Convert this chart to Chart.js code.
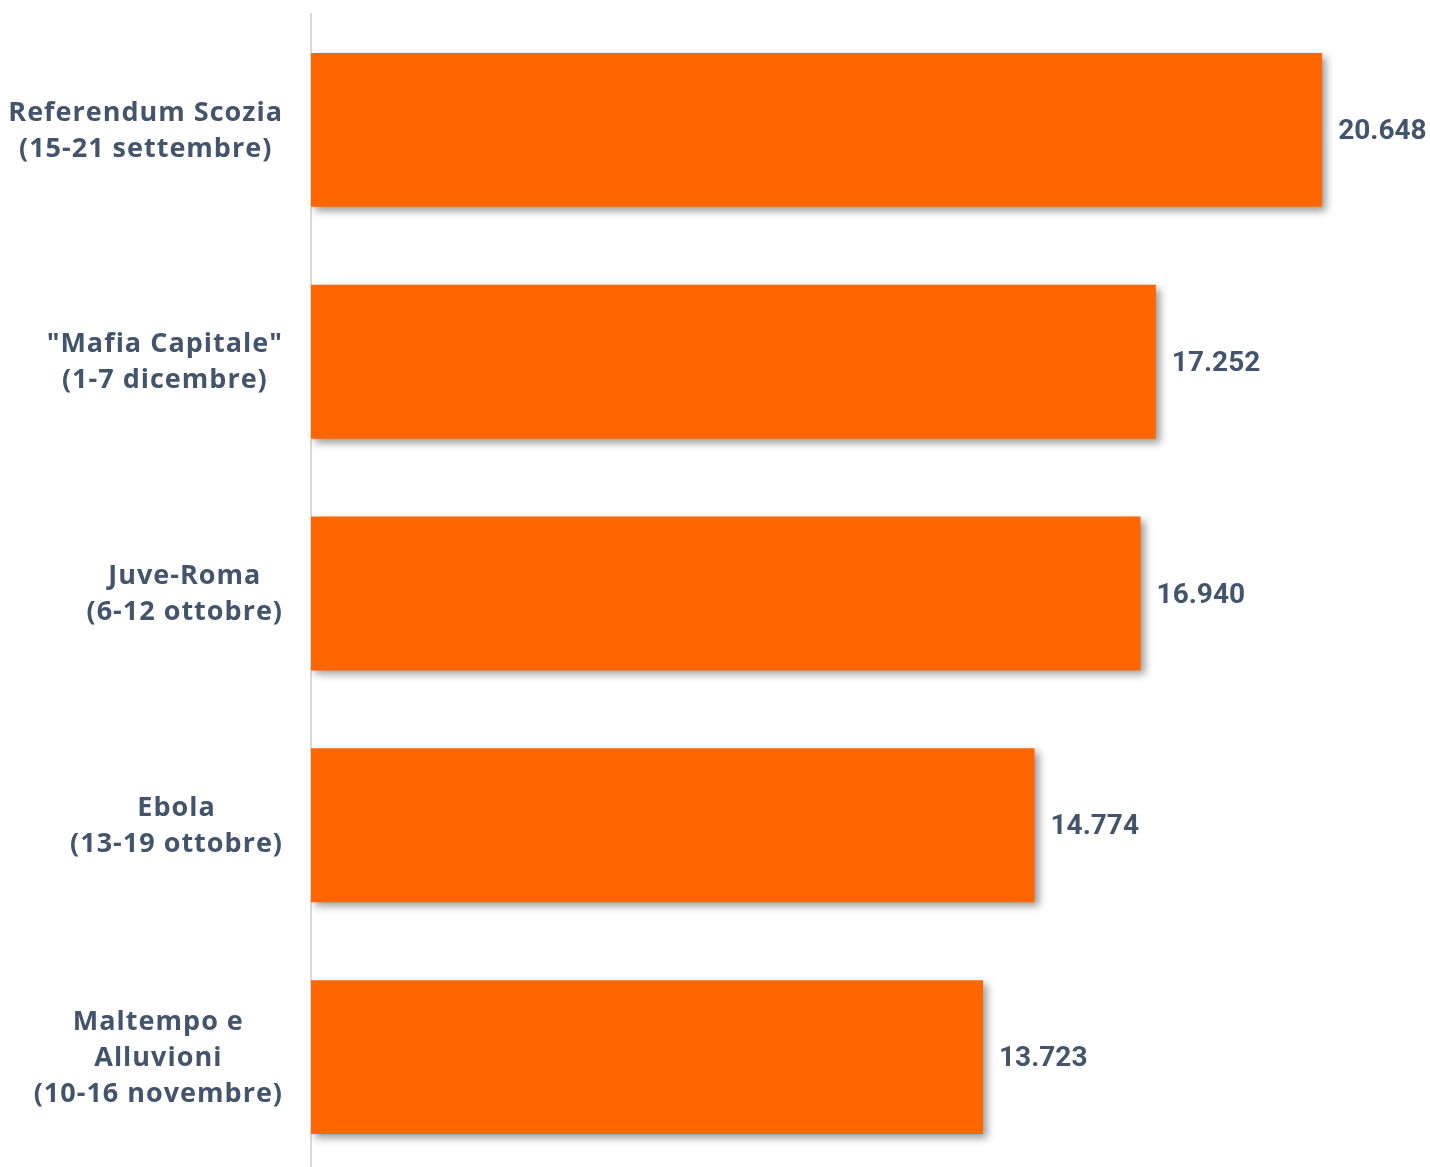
<!DOCTYPE html>
<html>
<head>
<meta charset="utf-8">
<script src="https://cdn.jsdelivr.net/npm/chart.js@4.4.1/dist/chart.umd.min.js"></script>
<style>
    html, body { margin: 0; padding: 0; background: #ffffff; overflow: hidden; }
    #wrap { position: relative; width: 1430px; height: 1173px; }
</style>
</head>
<body>
<div id="wrap"><canvas id="bar-chart"></canvas></div>
<script>
// Chart data
const categories = [
    ['Referendum Scozia', '(15-21 settembre)'],
    ['"Mafia Capitale"', '(1-7 dicembre)'],
    ['Juve-Roma', '(6-12 ottobre)'],
    ['Ebola', '(13-19 ottobre)'],
    ['Maltempo e', 'Alluvioni', '(10-16 novembre)']
];
const values = [20648, 17252, 16940, 14774, 13723];

const COLORS = {
    bar: '#ff6600',
    text: '#44546a',
    axis: '#d9d9d9'
};

const LABEL_FONT = "bold 27px 'Open Sans', sans-serif";
const VALUE_FONT = "bold 28px 'Roboto', sans-serif";

// Italian style thousands separator
function fmt(v) {
    return String(v).replace(/\B(?=(\d{3})+(?!\d))/g, '.');
}

// Drop shadow under bars
const barShadow = {
    id: 'barShadow',
    beforeDatasetsDraw(chart) {
        const ctx = chart.ctx;
        ctx.save();
        ctx.shadowColor = 'rgba(0, 0, 0, 0.4)';
        ctx.shadowBlur = 8;
        ctx.shadowOffsetX = 4;
        ctx.shadowOffsetY = 4;
    },
    afterDatasetsDraw(chart) {
        chart.ctx.restore();
    }
};

// Category labels (lines centred inside a right-aligned block) and value labels
const textLabels = {
    id: 'textLabels',
    afterDraw(chart) {
        const ctx = chart.ctx;
        const yScale = chart.scales.y;
        const meta = chart.getDatasetMeta(0);
        const lineH = 36;
        ctx.save();
        ctx.fillStyle = COLORS.text;
        ctx.textBaseline = 'middle';

        ctx.font = LABEL_FONT;
        ctx.letterSpacing = '1px';
        ctx.textAlign = 'center';
        categories.forEach((lines, i) => {
            const y = yScale.getPixelForTick(i) + 1;
            const w = Math.max(...lines.map(l => ctx.measureText(l).width));
            const cx = chart.chartArea.left - 28 - w / 2;
            const y0 = y - (lines.length - 1) * lineH / 2;
            lines.forEach((l, j) => ctx.fillText(l, cx, y0 + j * lineH));
        });

        ctx.font = VALUE_FONT;
        ctx.letterSpacing = '0px';
        ctx.textAlign = 'left';
        meta.data.forEach((bar, i) => {
            ctx.fillText(fmt(values[i]), bar.x + 16, bar.y + 2);
        });
        ctx.restore();
    }
};

new Chart(document.getElementById('bar-chart'), {
    type: 'bar',
    data: {
        labels: categories,
        datasets: [{
            data: values,
            backgroundColor: COLORS.bar,
            borderWidth: 0,
            categoryPercentage: 1,
            barPercentage: 0.664
        }]
    },
    options: {
        indexAxis: 'y',
        responsive: true,
        maintainAspectRatio: false,
        animation: false,
        layout: { padding: { top: 14, right: 0, bottom: 0, left: 0 } },
        plugins: {
            legend: { display: false },
            tooltip: { enabled: false }
        },
        scales: {
            x: {
                display: false,
                min: 0,
                max: 22850
            },
            y: {
                afterFit(scale) { scale.width = 311; },
                grid: { display: false, drawTicks: false },
                border: { display: true, color: COLORS.axis, width: 2 },
                ticks: { display: false }
            }
        }
    },
    plugins: [barShadow, textLabels]
});
</script>
</body>
</html>
